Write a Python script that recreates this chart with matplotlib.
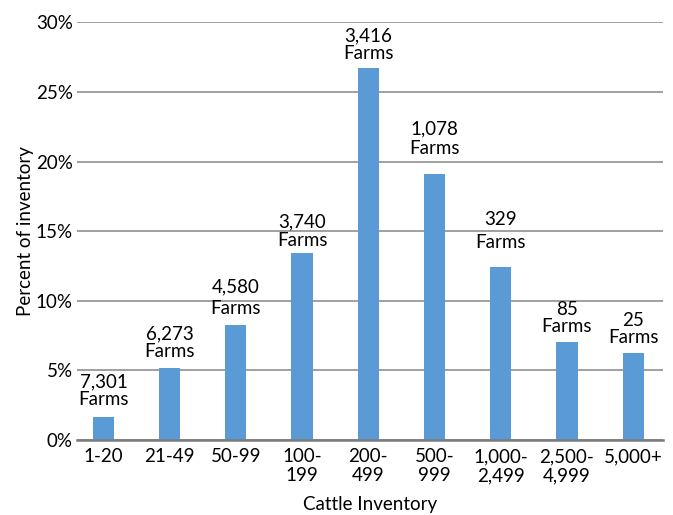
import matplotlib.pyplot as plt
from matplotlib.ticker import FuncFormatter

plt.rcParams['font.family'] = ['Lato', 'DejaVu Sans']

# herd size classes and share of total cattle inventory
categories = ["1-20", "21-49", "50-99", "100-\n199", "200-\n499", "500-\n999",
              "1,000-\n2,499", "2,500-\n4,999", "5,000+"]
pct_inventory = [1.67, 5.17, 8.23, 13.4, 26.75, 19.1, 12.45, 7.06, 6.27]
farm_counts = ["7,301", "6,273", "4,580", "3,740", "3,416", "1,078", "329", "85", "25"]

# gap above each bar (points) and line spacing of its label
label_pad = [6, 5.5, 6, 3.5, 4, 12, 11, 5, 5]
label_spacing = [1.05, 1.05, 1.35, 1.05, 1.05, 1.2, 1.45, 0.95, 0.95]

bar_color = "#5B9BD5"
grid_color = "#868686"
fs = 13.5

fig = plt.figure(figsize=(6.73, 5.15), dpi=100)
ax = fig.add_axes([0.1144, 0.1456, 0.8706, 0.8111])

x = list(range(len(categories)))
ax.bar(x, pct_inventory, width=0.32, color=bar_color, zorder=3)

for i, (v, n) in enumerate(zip(pct_inventory, farm_counts)):
    ax.annotate(n + "\nFarms", (i, v), xytext=(0, label_pad[i]),
                textcoords="offset points", ha="center", va="bottom",
                fontsize=fs, linespacing=label_spacing[i], color="#000000")

ax.set_ylim(0, 30)
ax.set_xlim(-0.4, 8.45)
ax.set_yticks(range(0, 31, 5))
ax.yaxis.set_major_formatter(FuncFormatter(lambda v, p: f"{v:.0f}%"))
ax.set_xticks(x)
ax.set_xticklabels(categories, fontsize=fs, linespacing=1.15, va="top")
ax.tick_params(axis="y", labelsize=fs, length=0, pad=3)
ax.tick_params(axis="x", length=0, pad=6)

ax.grid(axis="y", color=grid_color, linewidth=1.1, zorder=0)
for s in ["left", "right", "top"]:
    ax.spines[s].set_visible(False)
ax.spines["bottom"].set_color("#7a7a7a")
ax.spines["bottom"].set_linewidth(1.8)
ax.spines["bottom"].set_zorder(4)

ax.set_xlabel("Cattle Inventory", fontsize=fs, labelpad=8)
ax.set_ylabel("Percent of inventory", fontsize=fs, labelpad=1)

fig.savefig("out.png", dpi=100)
